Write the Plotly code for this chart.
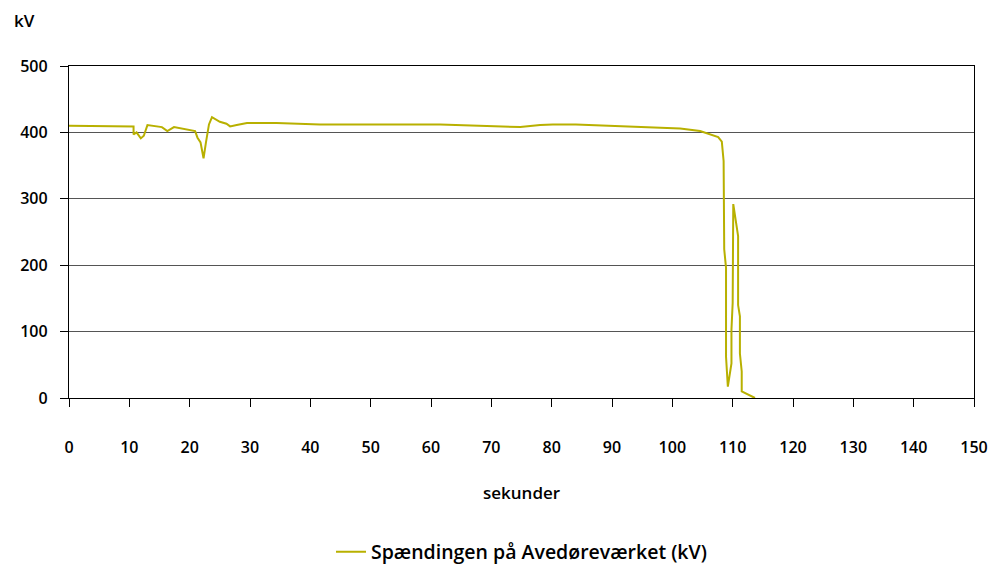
import plotly.graph_objects as go

seconds = [0, 10.7, 10.7, 11.2, 11.9, 12.4, 13.0, 15.4, 16.3, 17.4, 20.9, 21.3, 21.8, 22.3, 22.7,
           23.0, 23.2, 23.7, 24.1, 25.0, 26.1, 26.7, 27.8, 29.5, 34.4, 41.6, 61.5, 74.8, 78.1,
           80.2, 84.0, 91.3, 94.0, 99.6, 101.3, 104.6, 106.5, 107.6, 108.2, 108.5, 108.6, 108.9,
           108.9, 109.2, 109.8, 109.8, 110.0, 110.1, 110.9, 110.9, 111.2, 111.2, 111.5, 111.5, 113.7]
kv = [410, 409, 397, 400, 391, 395, 411, 408, 402, 408, 402, 392, 385, 361, 385,
      400, 412, 423, 421, 416, 413, 409, 411, 414, 414, 412, 412, 408, 411,
      412, 412, 409, 409, 406, 406, 402, 397, 393, 386, 357, 224, 196,
      62, 17, 52, 103, 143, 292, 244, 140, 123, 67, 40, 10, 0]

x_ticks = list(range(0, 151, 10))
y_ticks = [0, 100, 200, 300, 400, 500]
y_tick_labels = ["0", "100", "200", "300", "400", "500"]
series_name = "Spændingen på Avedøreværket (kV)"

FONT = "Open Sans"

fig = go.Figure()
fig.add_trace(go.Scatter(x=seconds, y=kv, mode="lines", name=series_name,
                         line=dict(color="#B8B000", width=2)))

# page body has an 8px default margin, so the figure is offset by (8, 8)
fig.update_layout(
    width=999, height=566, autosize=False,
    margin=dict(l=61, r=33, t=58, b=176, autoexpand=False),
    plot_bgcolor="white", paper_bgcolor="white",
    font=dict(family=FONT, size=16, color="black"),
    showlegend=True,
    legend=dict(orientation="h", x=0.5, xanchor="center", y=-0.464, yanchor="middle",
                font=dict(family=FONT, size=19.5, color="black", weight=600)),
    xaxis=dict(range=[0, 150], tickvals=x_ticks, ticks="outside", ticklen=8, tickcolor="black",
               showline=True, linecolor="black", linewidth=1, mirror=True, automargin=False,
               showgrid=False, zeroline=False, ticklabelstandoff=27,
               tickfont=dict(family=FONT, size=16, color="black", weight=600)),
    yaxis=dict(range=[0, 500], tickvals=y_ticks,
               ticktext=[t + "\u2007" for t in y_tick_labels],
               ticks="outside", ticklen=8, tickcolor="black",
               showline=True, linecolor="black", linewidth=1, mirror=True, automargin=False,
               showgrid=True, gridcolor="#555555", gridwidth=1, zeroline=False,
               tickfont=dict(family=FONT, size=16, color="black", weight=600)),
    annotations=[
        dict(text="kV", xref="paper", yref="paper", x=(12 - 69) / 905, y=(398 - 20) / 332,
             xanchor="left", yanchor="middle", showarrow=False,
             font=dict(family=FONT, size=17, color="black", weight=600)),
        dict(text="sekunder", xref="paper", yref="paper", x=0.5, y=(398 - 492) / 332,
             xanchor="center", yanchor="middle", showarrow=False,
             font=dict(family=FONT, size=17, color="black", weight=600)),
    ],
)

fig.write_html("out.html")
